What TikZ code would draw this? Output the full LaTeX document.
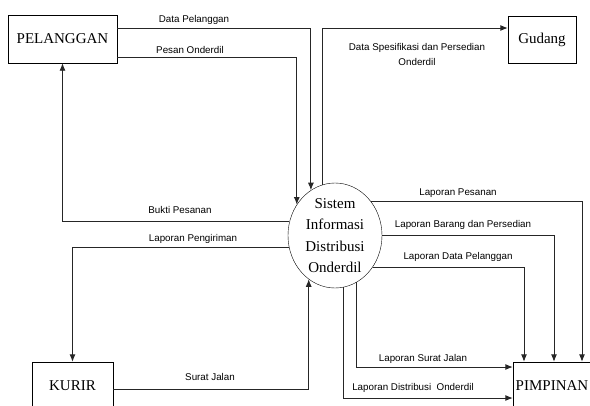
\documentclass[tikz,border=0pt]{standalone}
\usepackage{fontspec}
\setmainfont{Liberation Serif}
\setsansfont{Liberation Sans}
\usetikzlibrary{shapes.geometric, arrows.meta}

\begin{document}
\begin{tikzpicture}[>={Latex[length=7.5pt,width=6pt]}, x=1pt, y=-1pt,
    auto, align=center]

    \tikzset{
      entity/.style  = {shape=rectangle, draw, minimum height=48pt, inner sep=0pt,
                        font=\fontsize{15}{18}\selectfont},
      process/.style = {shape=ellipse, draw, minimum width=94pt, minimum height=105pt,
                        inner sep=0pt},
      flow/.style    = {draw=black!85, line width=0.9pt},
      lbl/.style     = {font=\sffamily\fontsize{9.8}{15}\selectfont, inner sep=0pt},
    }

    \clip (0,0) rectangle (590,405);

    \node[entity, minimum width=109pt] (pel) at (62.5,39)  {PELANGGAN};
    \node[entity, minimum width=68pt, minimum height=47pt]
                                       (gud) at (542,39.5) {Gudang};
    \node[entity, minimum width=81pt]  (kur) at (72.5,386) {KURIR};
    \node[entity, minimum width=78pt]  (pim) at (552,386)  {PIMPINAN};
    \node[process, label={[font=\fontsize{15}{21.3}\selectfont]center:{Sistem\\Informasi\\Distribusi\\Onderdil}}]
                                       (sid) at (335,235.5) {};

    % arus data
    \draw[flow, ->] ([yshift=11pt]pel.east)  -| (sid.118);
    \draw[flow, ->] ([yshift=-18pt]pel.east) -| (sid.141);
    \draw[flow, ->] (sid.163) -| (pel.south);
    \draw[flow, ->] (sid.194) -| (kur.north);
    \draw[flow, ->] ([yshift=-3pt]kur.east)  -| (sid.239);
    \draw[flow, ->] (sid.104) |- ([yshift=11.5pt]gud.west);
    \draw[flow, ->] (sid.43)  -| ([xshift=30pt]pim.north);
    \draw[flow, ->] (sid.0)   -| ([xshift=2pt]pim.north);
    \draw[flow, ->] (sid.-40) -| ([xshift=-28pt]pim.north);
    \draw[flow, ->] (sid.295) |- ([yshift=19pt]pim.west);
    \draw[flow, ->] (sid.279) |- ([yshift=-12pt]pim.west);

    \node[lbl] (l1)  at (194,20)  {Data Pelanggan};
    \node[lbl] (l2)  at (190,50)  {Pesan Onderdil};
    \node[lbl] (l3)  at (417,54.5) {Data Spesifikasi dan Persedian\\Onderdil};
    \node[lbl] (l4)  at (180,210) {Bukti Pesanan};
    \node[lbl] (l5)  at (193,239) {Laporan Pengiriman};
    \node[lbl] (l6)  at (210,377) {Surat Jalan};
    \node[lbl] (l7)  at (458,193) {Laporan Pesanan};
    \node[lbl] (l8)  at (463,225) {Laporan Barang dan Persedian};
    \node[lbl] (l9)  at (458,257) {Laporan Data Pelanggan};
    \node[lbl] (l10) at (423,359) {Laporan Surat Jalan};
    \node[lbl] (l11) at (413,388) {Laporan Distribusi\ \ Onderdil};

  \end{tikzpicture}
\end{document}
